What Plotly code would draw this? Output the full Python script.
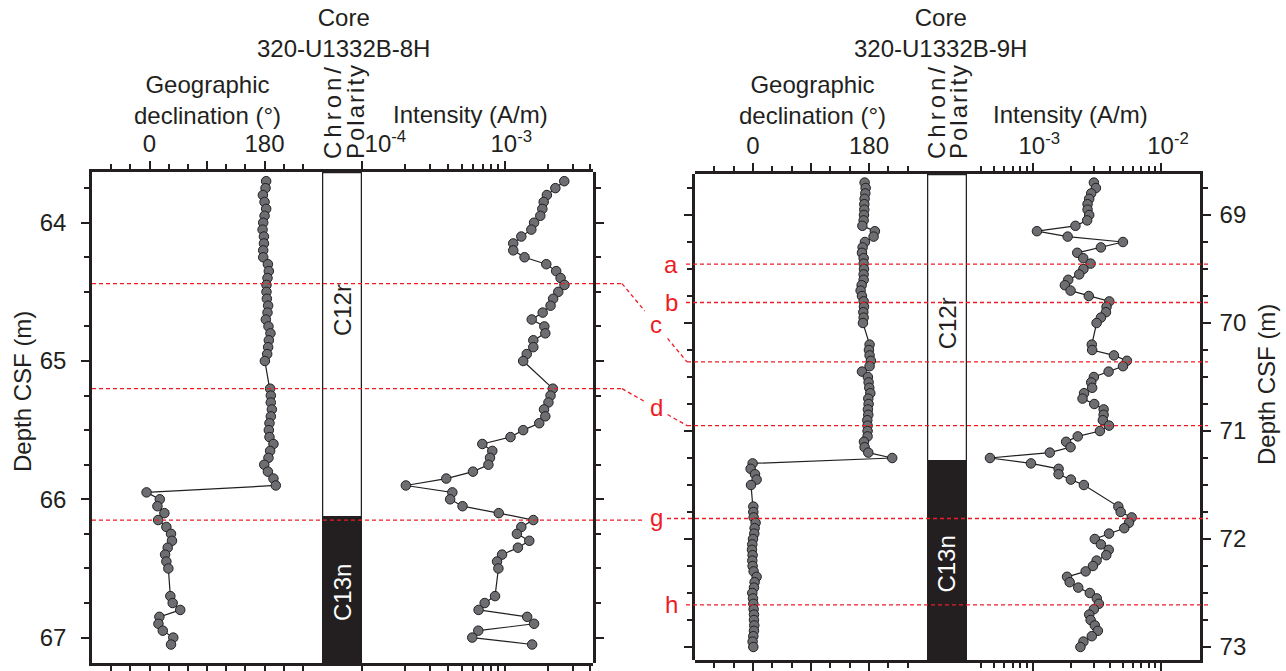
import plotly.graph_objects as go

W, H = 1286, 671

# ---------------- data: core 320-U1332B-8H ----------------
dep8 = [63.70, 63.75, 63.80, 63.85, 63.90, 63.95, 64.00, 64.05, 64.10, 64.15, 64.20, 64.25, 64.30, 64.35,
        64.40, 64.45, 64.50, 64.55, 64.60, 64.65, 64.70, 64.75, 64.80, 64.85, 64.90, 64.95, 65.00,
        65.20, 65.25, 65.30, 65.35, 65.40, 65.45, 65.50, 65.55, 65.60, 65.65, 65.70, 65.75, 65.80,
        65.85, 65.90, 65.95, 66.00, 66.05, 66.10, 66.15, 66.20, 66.25, 66.30, 66.35, 66.40, 66.45, 66.50,
        66.70, 66.75, 66.80, 66.85, 66.90, 66.95, 67.00, 67.05]
dec8 = [182.6, 181.6, 177.5, 180.1, 182.6, 180.1, 178.0, 177.0, 179.1, 179.1, 178.0, 178.0, 185.3, 186.8,
        184.7, 183.1, 183.1, 183.7, 185.7, 184.7, 182.1, 186.2, 189.3, 186.8, 185.7, 184.2, 180.6,
        188.8, 189.9, 189.8, 191.5, 189.9, 187.8, 186.8, 187.8, 194.0, 188.8, 186.2, 179.6, 185.3,
        194.0, 197.7, -4.6, 16.1, 12.4, 23.3, 13.5, 26.4, 33.7, 35.2, 28.5, 24.4, 26.4, 29.5,
        32.6, 36.3, 48.1, 15.5, 14.0, 20.8, 37.2, 33.7]
int8 = [2.62e-3, 2.27e-3, 1.98e-3, 1.88e-3, 1.84e-3, 1.78e-3, 1.61e-3, 1.54e-3, 1.31e-3, 1.15e-3, 1.15e-3,
        1.38e-3, 1.96e-3, 2.30e-3, 2.47e-3, 2.63e-3, 2.38e-3, 2.19e-3, 2.10e-3, 1.85e-3, 1.55e-3, 1.90e-3,
        1.93e-3, 1.59e-3, 1.59e-3, 1.43e-3, 1.35e-3,
        2.18e-3, 2.10e-3, 2.03e-3, 1.89e-3, 1.93e-3, 1.75e-3, 1.35e-3, 1.10e-3, 6.98e-4, 8.2e-4, 7.9e-4,
        7.7e-4, 6.0e-4, 3.9e-4, 2.03e-4, 4.3e-4, 4.15e-4, 5.07e-4, 9.1e-4, 1.59e-3, 1.31e-3, 1.22e-3,
        1.49e-3, 1.24e-3, 9.6e-4, 8.85e-4, 9.05e-4,
        8.57e-4, 7.25e-4, 6.57e-4, 1.44e-3, 1.61e-3, 6.54e-4, 5.93e-4, 1.56e-3]

# ---------------- data: core 320-U1332B-9H ----------------
dep9 = [68.70, 68.75, 68.80, 68.85, 68.90, 68.95, 69.00, 69.05, 69.10, 69.15, 69.20, 69.25, 69.30, 69.35,
        69.40, 69.45, 69.50, 69.55, 69.60, 69.65, 69.70, 69.75, 69.80, 69.85, 69.90, 69.95, 70.00,
        70.20, 70.25, 70.30, 70.35, 70.40, 70.45, 70.50, 70.55, 70.60, 70.65, 70.70, 70.75, 70.80,
        70.85, 70.90, 70.95, 71.00, 71.05, 71.10, 71.15, 71.20, 71.25, 71.30, 71.35, 71.40, 71.45, 71.50,
        71.70, 71.75, 71.80, 71.85, 71.90, 71.95, 72.00, 72.05, 72.10, 72.15, 72.20, 72.25, 72.30,
        72.35, 72.40, 72.45, 72.50, 72.55, 72.60, 72.65, 72.70, 72.75, 72.80, 72.85, 72.90, 72.95, 73.00]
dec9 = [173.2, 174.8, 174.3, 173.2, 172.7, 172.7, 172.2, 171.7, 169.7, 189.1, 187.1, 173.7, 170.1, 169.1,
        171.7, 171.7, 172.2, 171.7, 171.7, 168.6, 167.0, 169.1, 171.7, 172.2, 171.2, 171.7, 170.6,
        180.9, 179.9, 180.9, 182.9, 180.9, 169.1, 178.3, 179.4, 180.4, 182.0, 178.9, 179.4, 178.3,
        178.9, 177.4, 177.8, 177.8, 177.8, 172.2, 173.2, 178.9, 216.0, -0.6, -3.7, 3.1, 5.6, -3.1,
        0.5, 0.5, 1.0, 4.0, 2.5, 2.0, 0.0, -1.1, -1.6, -0.6, -1.1, -0.6, 1.0,
        5.6, 2.5, 1.5, -1.1, 0.0, 0.5, 1.0, 1.5, 1.5, 2.0, 1.5, 0.5, -0.6, 0.5]
int9 = [2.99e-3, 3.10e-3, 2.85e-3, 2.75e-3, 2.67e-3, 2.67e-3, 2.75e-3, 2.65e-3, 2.15e-3, 1.08e-3, 1.87e-3,
        5.03e-3, 3.39e-3, 2.22e-3, 2.47e-3, 2.82e-3, 2.48e-3, 2.30e-3, 1.89e-3, 1.78e-3, 1.97e-3, 2.73e-3,
        3.94e-3, 3.75e-3, 3.71e-3, 3.39e-3, 3.14e-3,
        2.88e-3, 2.90e-3, 4.28e-3, 5.40e-3, 5.03e-3, 3.89e-3, 2.99e-3, 2.85e-3, 2.90e-3, 2.51e-3, 2.44e-3,
        3.01e-3, 3.56e-3, 3.56e-3, 3.51e-3, 3.92e-3, 3.33e-3, 2.24e-3, 1.82e-3, 1.97e-3, 1.36e-3, 4.66e-4,
        9.7e-4, 1.59e-3, 1.59e-3, 1.98e-3, 2.50e-3,
        4.63e-3, 4.83e-3, 5.88e-3, 5.60e-3, 5.15e-3, 3.92e-3, 3.04e-3, 3.39e-3, 3.90e-3, 3.73e-3, 3.14e-3,
        2.94e-3, 2.58e-3, 1.85e-3, 1.94e-3, 2.26e-3, 2.78e-3, 3.15e-3, 3.27e-3, 2.99e-3, 2.75e-3, 2.82e-3,
        3.04e-3, 3.21e-3, 2.88e-3, 2.48e-3, 2.35e-3]

# chrons (name, polarity, boundary depth between them)
chron_names = ["C12r", "C13n"]
chron_polarity = ["reversed", "normal"]
chron_boundary_8H = 66.13
chron_boundary_9H = 71.28

# tie points
tie_labels = ["a", "b", "c", "d", "g", "h"]
tie_8H = [None, None, 64.44, 65.20, 66.15, None]
tie_9H = [69.455, 69.81, 70.36, 70.95, 71.81, 72.61]

# depth axis ticks
ticks_8H = [64, 65, 66, 67]
ticks_9H = [69, 70, 71, 72, 73]

# ---------------- layout geometry (pixels) ----------------
FONT = "Liberation Sans, Arial, Helvetica, sans-serif"
INK = "#231f20"
RED = "#ed1c24"
FS = 24

L_DEC, L_CHR, L_INT, L_Y = (92, 322), (322, 362), (362, 593), (172, 663)
R_DEC, R_CHR, R_INT, R_Y = (695, 927), (927, 967), (967, 1200), (174, 660)
L_RANGE = (63.6334, 67.1837)
R_RANGE = (68.6204, 73.1204)


def px(x):
    return x / W


def py(y):
    return 1 - y / H


def xdom(a):
    return [px(a[0]), px(a[1])]


def ydom(a):
    return [py(a[1]), py(a[0])]


def depth_px(d, rng, ypix):
    return ypix[0] + (d - rng[0]) / (rng[1] - rng[0]) * (ypix[1] - ypix[0])


fig = go.Figure()

mk = dict(size=9.5, color="#6d6e71", line=dict(color=INK, width=1))
ln = dict(color=INK, width=1.2)
fig.add_trace(go.Scatter(x=dec8, y=dep8, xaxis="x", yaxis="y", mode="lines+markers", marker=mk, line=ln))
fig.add_trace(go.Scatter(x=int8, y=dep8, xaxis="x3", yaxis="y", mode="lines+markers", marker=mk, line=ln))
fig.add_trace(go.Scatter(x=dec9, y=dep9, xaxis="x4", yaxis="y2", mode="lines+markers", marker=mk, line=ln))
fig.add_trace(go.Scatter(x=int9, y=dep9, xaxis="x6", yaxis="y2", mode="lines+markers", marker=mk, line=ln))
for xa, ya in [("x2", "y"), ("x7", "y"), ("x5", "y2"), ("x8", "y2")]:
    fig.add_trace(go.Scatter(x=[], y=[], xaxis=xa, yaxis=ya, hoverinfo="skip"))

tickfont = dict(family=FONT, size=FS, color=INK)
axline = dict(showline=True, linecolor=INK, linewidth=2.5, showgrid=False, zeroline=False,
              automargin=False)


def dec_axis(dom, anchor):
    return dict(domain=xdom(dom), anchor=anchor, side="top", range=[-90, 270], **axline,
                mirror="ticks", ticks="outside", ticklen=8, tickwidth=2, tickcolor=INK,
                tickvals=[0, 90, 180], ticktext=["0", "", "180"], tickfont=tickfont,
                minor=dict(tickvals=[-60, -30, 30, 60, 120, 150, 210, 240], ticks="outside",
                           ticklen=5, tickwidth=2, tickcolor=INK))


def chron_axis(dom, anchor):
    return dict(domain=xdom(dom), anchor=anchor, range=[0, 1], **axline, mirror=True,
                ticks="", showticklabels=False)


def log_minor(lo_exp, hi_exp, lo, hi):
    vals = []
    for e in range(lo_exp, hi_exp + 1):
        for m in range(2, 10):
            v = m * 10.0 ** e
            if lo < v < hi:
                vals.append(v)
    return vals


def int_axis(dom, anchor, rng, majors, texts):
    return dict(domain=xdom(dom), anchor=anchor, side="top", type="log", range=list(rng), **axline,
                mirror="ticks", ticks="outside", ticklen=8, tickwidth=2, tickcolor=INK,
                tickvals=majors, ticktext=texts, tickfont=tickfont,
                minor=dict(tickvals=log_minor(-5, -1, 10 ** rng[0], 10 ** rng[1]), ticks="outside",
                           ticklen=5, tickwidth=2, tickcolor=INK))


NB = "\u00a0"
fig.update_layout(
    template="none",
    xaxis=dec_axis(L_DEC, "y"),
    xaxis2=chron_axis(L_CHR, "y"),
    xaxis3=int_axis(L_INT, "y", (-4, -2.38), [1e-4, 1e-3],
                    [NB * 7 + "10<sup>-4</sup>", NB * 2 + "10<sup>-3</sup>"]),
    xaxis4=dec_axis(R_DEC, "y2"),
    xaxis5=chron_axis(R_CHR, "y2"),
    xaxis6=int_axis(R_INT, "y2", (-3.51, -1.70), [1e-3, 1e-2],
                    [NB * 2 + "10<sup>-3</sup>", NB * 2 + "10<sup>-2</sup>"]),
    xaxis7=dict(domain=[px(L_DEC[0]), px(L_INT[1])], anchor="y", visible=False, range=[0, 1],
                automargin=False),
    xaxis8=dict(domain=[px(R_DEC[0]), px(R_INT[1])], anchor="y2", visible=False, range=[0, 1],
                automargin=False),
    yaxis=dict(domain=ydom(L_Y), anchor="x7", side="left", range=[L_RANGE[1], L_RANGE[0]], **axline,
               mirror="ticks", ticks="outside", ticklen=8, tickwidth=2, tickcolor=INK,
               tickvals=ticks_8H, tickfont=tickfont, ticklabelstandoff=10,
               minor=dict(dtick=0.25, tick0=64, ticks="outside", ticklen=5, tickwidth=2, tickcolor=INK)),
    yaxis2=dict(domain=ydom(R_Y), anchor="x8", side="right", range=[R_RANGE[1], R_RANGE[0]], **axline,
                mirror="ticks", ticks="outside", ticklen=8, tickwidth=2, tickcolor=INK,
                tickvals=ticks_9H, tickfont=tickfont, ticklabelstandoff=4,
                minor=dict(dtick=0.25, tick0=69, ticks="outside", ticklen=5, tickwidth=2, tickcolor=INK)),
    width=W, height=H, margin=dict(l=0, r=0, t=0, b=0, autoexpand=False),
    paper_bgcolor="white", plot_bgcolor="rgba(0,0,0,0)", showlegend=False,
    font=dict(family=FONT, size=FS, color=INK),
)

shapes = []
annots = []

# chron columns (label position as fraction of each interval, top->bottom)
chron_label_frac = {"y": [0.40, 0.52], "y2": [0.52, 0.52]}
for xa, ya, rng, bnd in [("x2", "y", L_RANGE, chron_boundary_8H), ("x5", "y2", R_RANGE, chron_boundary_9H)]:
    spans = [(rng[0], bnd), (bnd, rng[1])]
    for i, ((top, bot), name, pol) in enumerate(zip(spans, chron_names, chron_polarity)):
        fill = INK if pol == "normal" else "white"
        shapes.append(dict(type="rect", xref=xa, yref=ya, x0=0, x1=1, y0=top, y1=bot,
                           fillcolor=fill, line=dict(color=INK, width=2.5), layer="above"))
        f = chron_label_frac[ya][i]
        annots.append(dict(xref=xa, yref=ya, x=0.5, y=top + f * (bot - top), xanchor="center",
                           yanchor="middle", text=name, textangle=-90, showarrow=False,
                           font=dict(family=FONT, size=FS, color="white" if pol == "normal" else INK)))

# tie lines
dash = "4px,3px"
red_line = dict(color=RED, width=1.3, dash=dash)
lab_font = dict(family=FONT, size=FS, color=RED)
for lab, d8, d9 in zip(tie_labels, tie_8H, tie_9H):
    yR = depth_px(d9, R_RANGE, R_Y)
    if d8 is None:
        shapes.append(dict(type="line", xref="paper", yref="y2", x0=px(686), x1=px(1208), y0=d9, y1=d9,
                           line=red_line, layer="above"))
        annots.append(dict(xref="paper", yref="paper", x=px(671), y=py(yR), xanchor="center",
                           yanchor="middle", text=lab, showarrow=False, font=lab_font))
        continue
    yL = depth_px(d8, L_RANGE, L_Y)
    if lab == "g":
        shapes.append(dict(type="line", xref="paper", yref="y", x0=px(L_DEC[0]), x1=px(645), y0=d8, y1=d8,
                           line=red_line, layer="above"))
        shapes.append(dict(type="line", xref="paper", yref="y2", x0=px(667), x1=px(1208), y0=d9, y1=d9,
                           line=red_line, layer="above"))
        annots.append(dict(xref="paper", yref="paper", x=px(656), y=py((yL + yR) / 2 - 2),
                           xanchor="center", yanchor="middle", text=lab, showarrow=False, font=lab_font))
        continue
    shapes.append(dict(type="line", xref="paper", yref="y", x0=px(L_DEC[0]), x1=px(622), y0=d8, y1=d8,
                       line=red_line, layer="above"))
    shapes.append(dict(type="line", xref="paper", yref="y2", x0=px(687), x1=px(1208), y0=d9, y1=d9,
                       line=red_line, layer="above"))
    xa_, xb_ = 622, 687
    for t0, t1 in [(0.0, 0.35), (0.70, 1.0)]:
        shapes.append(dict(type="line", xref="paper", yref="paper",
                           x0=px(xa_ + t0 * (xb_ - xa_)), x1=px(xa_ + t1 * (xb_ - xa_)),
                           y0=py(yL + t0 * (yR - yL)), y1=py(yL + t1 * (yR - yL)),
                           line=red_line, layer="above"))
    annots.append(dict(xref="paper", yref="paper", x=px(656), y=py(yL + 0.52 * (yR - yL)),
                       xanchor="center", yanchor="middle", text=lab, showarrow=False, font=lab_font))

# headers
hdr = dict(showarrow=False, xref="paper", yref="paper", xanchor="center", yanchor="middle",
           font=dict(family=FONT, size=FS, color=INK))
TS = "\u2006"
HS = "\u200a"
for cx, core in [(343, "320-U1332B-8H"), (940, "320-U1332B-9H")]:
    annots.append(dict(hdr, x=px(cx), y=py(33), text="Core<br>" + core))
for cx in (207, 812):
    annots.append(dict(hdr, x=px(cx), y=py(100), text="Geographic<br>declination (°)"))
for cx in (470, 1070):
    annots.append(dict(hdr, x=px(cx), y=py(114), text="Intensity (A/m)"))
for cx in (333, 937):
    annots.append(dict(hdr, x=px(cx), y=py(161), yanchor="bottom", textangle=-90,
                       text=TS.join("Chron/")))
for cx in (356, 959):
    annots.append(dict(hdr, x=px(cx), y=py(161), yanchor="bottom", textangle=-90,
                       text=HS.join("Polarity")))
annots.append(dict(hdr, x=px(22), y=py(392), textangle=-90, text="Depth CSF (m)"))
annots.append(dict(hdr, x=px(1266), y=py(385), textangle=-90, text="Depth CSF (m)"))

fig.update_layout(shapes=shapes, annotations=annots)
fig.write_html("out.html")
